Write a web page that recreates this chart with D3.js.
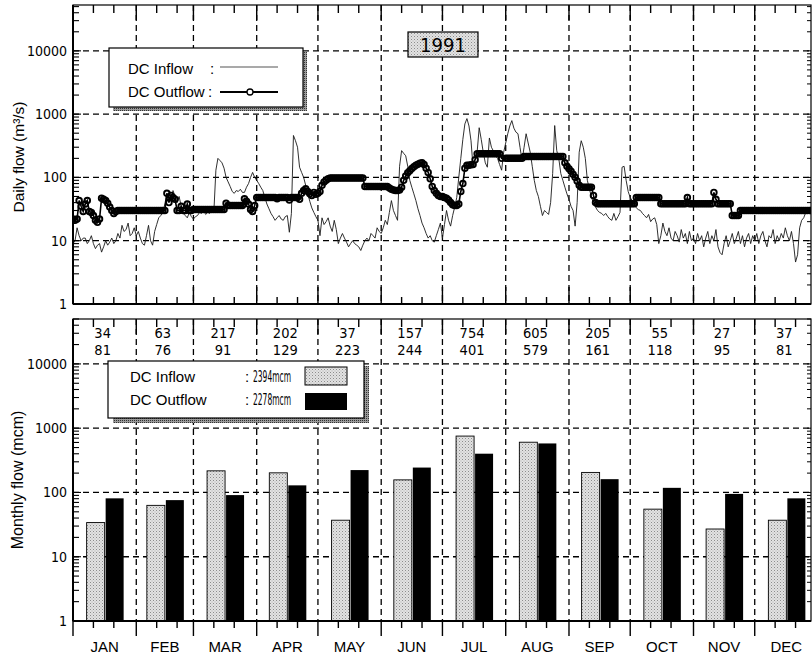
<!DOCTYPE html>
<html><head><meta charset="utf-8">
<script src="https://cdn.jsdelivr.net/npm/d3@7"></script>
<style>body{margin:0;background:#fff}svg{display:block}</style>
</head><body><svg id="c" width="812" height="660"></svg>
<script>
// ---------------- DATA ----------------
const months = ["JAN","FEB","MAR","APR","MAY","JUN","JUL","AUG","SEP","OCT","NOV","DEC"];
const daysInMonth = [31,28,31,30,31,30,31,31,30,31,30,31];
const monthlyInflow  = [34,63,217,202,37,157,754,605,205,55,27,37];   // mcm
const monthlyOutflow = [81,76,91,129,223,244,401,579,161,118,95,81];  // mcm
const totalInflowLabel = "2394mcm";
const totalOutflowLabel = "2278mcm";
const yearLabel = "1991";
const yTickValues = [1,10,100,1000,10000];
const yTickLabels = ["1","10","100","1000","10000"];

// daily inflow (m3/s), one array per month
const dailyInflow = [
 [9,10,16,12,10,11,11,9,10,12,9,7.5,8.5,9,6.6,8,10,8.5,9.5,11,9,10,13,11,17.5,14,15,19,12,13,16],
 [12,14,11,9,8.5,12,17.5,10,8.5,14,18,23,25,28,38,56,48,45,62,50,40,50,35,27,25,23,28,24],
 [22,24,25,28,27,30,26,28,27,30,28,130,200,185,170,140,100,85,72,60,56,62,60,65,58,58,70,80,100,120,100],
 [90,80,70,62,48,38,32,27,24,21,23,25,22,21,24,25,13.6,27,460,380,300,145,120,100,75,56,42,33,28,24],
 [21,12,23,18,20,23,17,14,21,15,9,11,13,11,9.5,8,9,10,9,8.5,8,7,8.5,10,11,10,13,12,11,16,14],
 [13,16,21,18,28,43,30,25,21,150,265,240,220,150,90,70,55,43,32,25,19,16,13,11,12,10,9.5,12,15,19],
 [11,18,30,21,17,25,34,48,100,200,400,700,850,650,380,145,200,250,610,400,250,170,145,420,300,260,220,200,160,130,250],
 [350,490,650,790,600,520,490,300,185,300,490,350,250,150,90,62,50,35,25,30,28,26,40,115,660,265,200,115,90,70,55],
 [45,35,30,17,40,250,380,300,200,90,65,50,38,34,30,28,27,25,27,24,22,21,27,21,24,28,145,150,90,60],
 [48,43,38,33,31,30,27,25,23,26,20,22,23,18,9,12,19,14,12,16,11,10,14,12,9.5,15,11,13,9,14,10],
 [11,9,13,10,12,8,11,14,9,12,10,15,8,6.5,6,9,12,8,10,13,9,11,14,9,12,8,11,13,9,12],
 [10,13,9,12,14,10,8,12,11,15,9,12,10,13,11,16,12,10,14,9,4.6,6,16,21,23,28,27,30,32,30,30]
];
// daily outflow (m3/s), one array per month
const dailyOutflow = [
 [22,21,22,43,35,29,38,43,29,28,25,21,19.5,22,47,45,43,39,34,30,27,29,30,30,30,30,30,30,30,30,30],
 [30,30,30,30,30,30,30,30,30,30,30,30,30,30,30,56,40,52,48,45,30,30,35,30,30,38,30,30],
 [31,31,31,31,31,31,31,31,31,31,31,31,31,31,31,31,39,36,36,36,36,36,36,36,36,46,42,38,31,29,36],
 [48,48,48,48,48,48,48,48,48,48,46,48,48,48,48,48,44,48,48,48,48,45,56,62,66,60,55,52,58,54],
 [56,60,75,85,90,95,98,98,98,98,98,98,98,98,98,98,98,98,98,98,98,98,98,72,72,72,72,72,72,72,72],
 [72,72,72,72,68,65,63,62,62,63,70,90,105,118,128,138,148,155,162,168,170,160,140,120,95,72,62,56,52,50],
 [50,48,47,44,40,37,36,36,38,60,80,140,155,155,158,160,190,236,236,236,236,236,236,236,236,236,236,236,236,200],
 [200,200,200,200,200,200,200,200,200,215,215,215,215,215,215,215,215,215,215,215,215,215,215,215,215,215,215,215,215,170,150],
 [137,125,112,101,88,75,70,70,70,70,70,70,52,40,38.5,38.5,38.5,38.5,38.5,38.5,38.5,38.5,38.5,38.5,38.5,38.5,38.5,38.5,38.5,38.5],
 [38.5,38.5,38.5,48,48,48,48,48,48,48,48,48,48,48,48,38.5,38.5,38.5,38.5,38.5,38.5,38.5,38.5,38.5,38.5,38.5,38.5,38.5,48,38.5,38.5],
 [38.5,38.5,38.5,38.5,38.5,38.5,38.5,38.5,38.5,38.5,58,45,38.5,38.5,38.5,38.5,38.5,38.5,38.5,25,25,25,25,30,30,30,30,30,30,30],
 [30,30,30,30,30,30,30,30,30,30,30,30,30,30,30,30,30,30,30,30,30,30,30,30,30,30,30,30,30,30,30]
];

// ---------------- LAYOUT ----------------
const NARROW = "'Liberation Sans Narrow','Arial Narrow','DejaVu Sans Condensed',sans-serif";
const REG = "'Liberation Sans',Arial,'Helvetica',sans-serif";
const L = 73, R = 811;
const topP = {t: 5, b: 304};
const botP = {t: 319, b: 621};

const monthStart = [];
daysInMonth.reduce((acc, d) => { monthStart.push(acc); return acc + d; }, 0);

const x = d3.scaleLinear().domain([0, 365]).range([73, 818]);
const yTop = d3.scaleLog().domain([1, 53000]).range([topP.b, topP.t]);
const yBot = d3.scaleLog().domain([1, 50000]).range([botP.b, botP.t]);

const svg = d3.select("#c");
const defs = svg.append("defs");
const pat = defs.append("pattern").attr("id","stip").attr("width",3).attr("height",3)
  .attr("patternUnits","userSpaceOnUse");
pat.append("rect").attr("width",3).attr("height",3).attr("fill","#e2e2e2");
pat.append("rect").attr("x",0).attr("y",0).attr("width",1).attr("height",1).attr("fill","#8c8c8c");
pat.append("rect").attr("x",1.5).attr("y",1.5).attr("width",1).attr("height",1).attr("fill","#b0b0b0");
const shadowPat = defs.append("pattern").attr("id","shd").attr("width",2).attr("height",2)
  .attr("patternUnits","userSpaceOnUse");
shadowPat.append("rect").attr("width",2).attr("height",2).attr("fill","#9a9a9a");
shadowPat.append("rect").attr("width",1).attr("height",1).attr("fill","#333");

defs.append("clipPath").attr("id","clipTop").append("rect")
  .attr("x",L).attr("y",topP.t).attr("width",R-L).attr("height",topP.b-topP.t);

function grid(y, P) {
  const g = svg.append("g").attr("stroke","#000").attr("stroke-width",1.3)
    .attr("stroke-dasharray","6,4").attr("fill","none");
  [10,100,1000,10000].forEach(v => {
    g.append("line").attr("x1",L).attr("x2",R).attr("y1",y(v)).attr("y2",y(v));
  });
  monthStart.slice(1).forEach(d => {
    g.append("line").attr("x1",x(d)).attr("x2",x(d)).attr("y1",P.t).attr("y2",P.b);
  });
}

function frame(y, P, maxV, bottomOutside) {
  const g = svg.append("g").attr("stroke","#000").attr("fill","none");
  g.append("rect").attr("x",L).attr("y",P.t).attr("width",R-L).attr("height",P.b-P.t).attr("stroke-width",1.2);
  g.append("line").attr("x1",L).attr("x2",L).attr("y1",P.t).attr("y2",P.b).attr("stroke-width",2);
  g.append("line").attr("x1",L).attr("x2",R).attr("y1",P.b).attr("y2",P.b).attr("stroke-width",2);
  for (let k = 0; k <= 4; k++) {
    for (let j = 1; j <= 9; j++) {
      const v = j * Math.pow(10, k);
      if (v > maxV) continue;
      const len = j === 1 ? 8 : 6;
      g.append("line").attr("x1",L).attr("x2",L+len).attr("y1",y(v)).attr("y2",y(v)).attr("stroke-width",1.1);
      g.append("line").attr("x1",R).attr("x2",R-4).attr("y1",y(v)).attr("y2",y(v)).attr("stroke-width",1);
    }
  }
  monthStart.forEach(ms => {
    [0,10,20].forEach(off => {
      const xx = x(ms + off), major = off === 0;
      g.append("line").attr("x1",xx).attr("x2",xx).attr("y1",P.t).attr("y2",P.t + (major?15:8)).attr("stroke-width",1.4);
      if (bottomOutside) {
        g.append("line").attr("x1",xx).attr("x2",xx).attr("y1",P.b).attr("y2",P.b + (major?15:7)).attr("stroke-width",1.4);
      } else {
        g.append("line").attr("x1",xx).attr("x2",xx).attr("y1",P.b).attr("y2",P.b - (major?17:7)).attr("stroke-width",1.4);
      }
    });
  });
  const tl = svg.append("g").attr("font-family",NARROW).attr("font-size",14).attr("text-anchor","end").attr("fill","#000");
  yTickValues.forEach((v,i) => {
    tl.append("text").attr("x",L-6).attr("y",y(v)+5).text(yTickLabels[i]);
  });
}

// ---------------- TOP PANEL ----------------
grid(yTop, topP);

const inflowPts = [], outflowPts = [];
dailyInflow.forEach((arr, m) => arr.forEach((v, i) => inflowPts.push({d: monthStart[m] + i, v})));
dailyOutflow.forEach((arr, m) => arr.forEach((v, i) => outflowPts.push({d: monthStart[m] + i, v})));

const line = d3.line().x(p => x(p.d)).y(p => yTop(p.v));
const dataG = svg.append("g").attr("clip-path","url(#clipTop)");
dataG.append("path").datum(inflowPts).attr("d", line).attr("fill","none")
  .attr("stroke","#1a1a1a").attr("stroke-width",0.9);
dataG.append("path").datum(outflowPts).attr("d", line).attr("fill","none")
  .attr("stroke","#000").attr("stroke-width",1.6);
dataG.selectAll("circle.o").data(outflowPts).enter().append("circle")
  .attr("cx", p => x(p.d)).attr("cy", p => yTop(p.v)).attr("r",2.8)
  .attr("fill","none").attr("stroke","#000").attr("stroke-width",1.9);

frame(yTop, topP, 50000, false);

// top legend
svg.append("rect").attr("x",113).attr("y",52).attr("width",194).attr("height",59).attr("fill","url(#shd)");
svg.append("rect").attr("x",109).attr("y",48).attr("width",194).attr("height",59)
  .attr("fill","#fff").attr("stroke","#000").attr("stroke-width",1.2);
const lg = svg.append("g").attr("font-family",REG).attr("font-size",15).attr("fill","#000");
lg.append("text").attr("x",128).attr("y",74).text("DC Inflow");
lg.append("text").attr("x",210).attr("y",74).text(":");
lg.append("text").attr("x",128).attr("y",97).text("DC Outflow");
lg.append("text").attr("x",208).attr("y",97).text(":");
svg.append("line").attr("x1",220).attr("x2",278).attr("y1",67).attr("y2",67).attr("stroke","#555").attr("stroke-width",1.2);
svg.append("line").attr("x1",220).attr("x2",278).attr("y1",92).attr("y2",92).attr("stroke","#000").attr("stroke-width",2);
svg.append("circle").attr("cx",250).attr("cy",92).attr("r",3).attr("fill","#fff").attr("stroke","#000").attr("stroke-width",1.3);

// year box
svg.append("rect").attr("x",408).attr("y",32).attr("width",70).attr("height",25)
  .attr("fill","url(#stip)").attr("stroke","#000").attr("stroke-width",1.2);
svg.append("text").attr("x",443).attr("y",52).attr("text-anchor","middle")
  .attr("font-family",NARROW).attr("font-size",20).text(yearLabel);

svg.append("text").attr("transform","translate(24,157) rotate(-90)").attr("text-anchor","middle")
  .attr("font-family",REG).attr("font-size",15.5).text("Daily flow (m³/s)");

// ---------------- BOTTOM PANEL ----------------
grid(yBot, botP);

const mc = months.map((m,i) => x(monthStart[i] + daysInMonth[i]/2));
const bars = svg.append("g");
monthlyInflow.forEach((v,i) => {
  bars.append("rect").attr("x", mc[i]-18).attr("width",18).attr("y", yBot(v)).attr("height", botP.b - yBot(v))
    .attr("fill","url(#stip)").attr("stroke","#000").attr("stroke-width",0.9);
});
monthlyOutflow.forEach((v,i) => {
  bars.append("rect").attr("x", mc[i]+1).attr("width",18).attr("y", yBot(v)).attr("height", botP.b - yBot(v))
    .attr("fill","#000");
});

frame(yBot, botP, 50000, true);

// value labels
const vl = svg.append("g").attr("font-family",NARROW).attr("font-size",14.5).attr("text-anchor","middle");
monthlyInflow.forEach((v,i) => vl.append("text").attr("x", mc[i]-2).attr("y",337.5).text(v));
monthlyOutflow.forEach((v,i) => vl.append("text").attr("x", mc[i]-2).attr("y",354.5).text(v));

// month labels
const ml = svg.append("g").attr("font-family",REG).attr("font-size",15).attr("text-anchor","middle");
months.forEach((m,i) => ml.append("text").attr("x", mc[i]).attr("y",652).text(m));

// bottom legend
svg.append("rect").attr("x",113).attr("y",366).attr("width",256).attr("height",57).attr("fill","url(#shd)");
svg.append("rect").attr("x",108).attr("y",361).attr("width",256).attr("height",57)
  .attr("fill","#fff").attr("stroke","#000").attr("stroke-width",1.2);
const bl = svg.append("g").attr("font-family",REG).attr("font-size",15);
bl.append("text").attr("x",130).attr("y",382).text("DC Inflow");
bl.append("text").attr("x",245).attr("y",382).text(":");
bl.append("text").attr("x",253).attr("y",382).attr("font-family",NARROW).attr("font-size",16.5)
  .attr("textLength",38).attr("lengthAdjust","spacingAndGlyphs").text(totalInflowLabel);
bl.append("text").attr("x",130).attr("y",405).text("DC Outflow");
bl.append("text").attr("x",245).attr("y",405).text(":");
bl.append("text").attr("x",253).attr("y",405).attr("font-family",NARROW).attr("font-size",16.5)
  .attr("textLength",38).attr("lengthAdjust","spacingAndGlyphs").text(totalOutflowLabel);
svg.append("rect").attr("x",305).attr("y",367).attr("width",42).attr("height",18)
  .attr("fill","url(#stip)").attr("stroke","#000").attr("stroke-width",1);
svg.append("rect").attr("x",305).attr("y",393).attr("width",42).attr("height",17).attr("fill","#000");

svg.append("text").attr("transform","translate(23,480) rotate(-90)").attr("text-anchor","middle")
  .attr("font-family",REG).attr("font-size",16).text("Monthly flow (mcm)");
</script>
</body></html>
